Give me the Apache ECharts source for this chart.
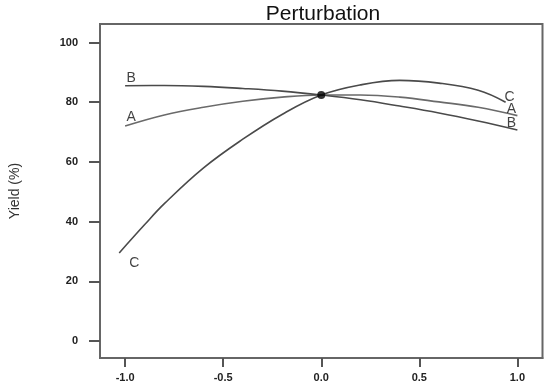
<!DOCTYPE html>
<html>
<head>
<meta charset="utf-8">
<script src="https://cdn.jsdelivr.net/npm/echarts@6/dist/echarts.min.js"></script>
<style>html,body{margin:0;padding:0;background:#fff}#c{width:550px;height:389px}</style>
</head>
<body>
<div id="c"></div>
<script>
// Curve A
const xA = [-1.0, -0.8, -0.6, -0.4, -0.2, 0.0, 0.2, 0.4, 0.6, 0.8, 1.0];
const yA = [72.0, 75.7, 78.3, 80.3, 81.7, 82.4, 82.4, 81.7, 80.1, 78.3, 75.5];
// Curve B
const xB = [-1.0, -0.8, -0.6, -0.4, -0.2, 0.0, 0.2, 0.4, 0.6, 0.8, 1.0];
const yB = [85.5, 85.6, 85.3, 84.6, 83.7, 82.4, 80.8, 78.7, 76.4, 73.7, 70.7];
// Curve C
const xC = [-1.03, -0.9, -0.8, -0.6, -0.4, -0.2, 0.0, 0.2, 0.4, 0.6, 0.8, 0.94];
const yC = [29.5, 39.0, 46.0, 58.0, 67.6, 75.9, 82.4, 85.8, 87.3, 86.4, 84.0, 80.0];
// Reference point
const refPoint = [0.0, 82.4];
const curveNames = ['A', 'B', 'C'];
const xTicks = [-1.0, -0.5, 0.0, 0.5, 1.0];
const yTicks = [0, 20, 40, 60, 80, 100];

const pairs = (xs, ys) => xs.map((x, i) => [x, ys[i]]);
const curves = [pairs(xA, yA), pairs(xB, yB), pairs(xC, yC)];

// label offsets (style) for start/end labels of each curve
const startOff = {A: [6, -9], B: [6, -8], C: [15, 10]};
const endOff = {A: [-6, -6], B: [-6, -7], C: [4, -5]};
const lineColors = {A: '#6a6a6a', B: '#4a4a4a', C: '#4a4a4a'};
const FONT = 'Liberation Sans, Arial, sans-serif';

const series = [];
curves.forEach((d, i) => {
  const n = curveNames[i];
  series.push({
    type: 'line', data: d, showSymbol: false, smooth: 0.4,
    lineStyle: {color: lineColors[n], width: 1.6}, silent: true, z: 2
  });
  series.push({
    type: 'scatter', symbolSize: 1, itemStyle: {color: 'rgba(0,0,0,0)'}, z: 4,
    data: [
      {value: d[0], label: {show: true, position: 'inside', offset: startOff[n], formatter: n}},
      {value: d[d.length - 1], label: {show: true, position: 'inside', offset: endOff[n], formatter: n}}
    ],
    label: {color: '#111', fontSize: 14, fontFamily: FONT}
  });
});
series.push({
  type: 'scatter', data: [refPoint], symbolSize: 8,
  itemStyle: {color: '#000'}, z: 5
});

const chart = echarts.init(document.getElementById('c'), null, {renderer: 'canvas'});
chart.setOption({
  animation: false,
  backgroundColor: '#fff',
  title: {
    text: 'Perturbation', left: 318, top: -1, textAlign: 'center',
    textStyle: {fontFamily: FONT, fontSize: 21, fontWeight: 'normal', color: '#111'}
  },
  grid: {left: 97.5, right: 7.5, top: 24, bottom: 31, show: true, borderColor: '#666', borderWidth: 2},
  xAxis: {
    type: 'value', min: -1.128, max: 1.128,
    axisLine: {show: true, onZero: false, lineStyle: {color: '#666', width: 2}},
    axisTick: {show: true, customValues: xTicks, length: 9, lineStyle: {color: '#555', width: 2}},
    axisLabel: {customValues: xTicks, margin: 14, formatter: v => v.toFixed(1),
      color: '#222', fontSize: 11, fontWeight: 'bold', fontFamily: FONT},
    splitLine: {show: false}
  },
  yAxis: {
    type: 'value', min: -5.7, max: 106.2,
    name: 'Yield (%)', nameLocation: 'middle', nameGap: 78, nameRotate: 90,
    nameTextStyle: {fontSize: 14, color: '#333', fontFamily: FONT},
    axisLine: {show: true, onZero: false, lineStyle: {color: '#666', width: 2}},
    axisTick: {show: true, customValues: yTicks, length: 11, lineStyle: {color: '#555', width: 2}},
    axisLabel: {customValues: yTicks, margin: 22, formatter: v => String(v),
      color: '#222', fontSize: 11, fontWeight: 'bold', fontFamily: FONT},
    splitLine: {show: false}
  },
  series: series
});
</script>
</body>
</html>
